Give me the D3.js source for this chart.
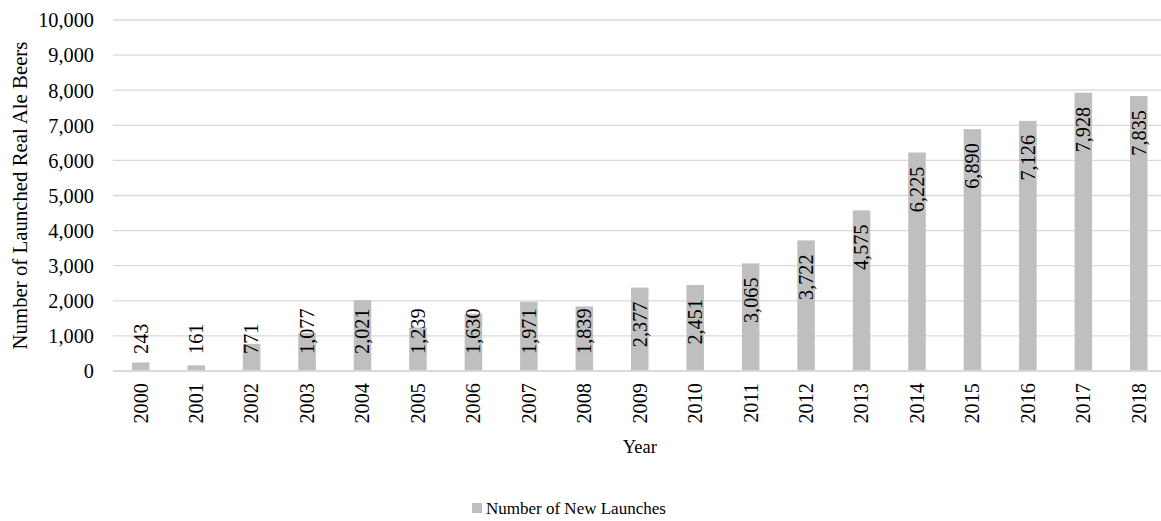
<!DOCTYPE html>
<html>
<head>
<meta charset="utf-8">
<script src="https://cdn.jsdelivr.net/npm/d3@7"></script>
<style>
  html, body { margin: 0; padding: 0; background: #fff; }
  svg text { font-family: "Liberation Serif", "Times New Roman", serif; fill: #000; }
</style>
</head>
<body>
<svg id="chart" width="1161" height="521"></svg>
<script>
// Real ale launches per year
const years = ["2000","2001","2002","2003","2004","2005","2006","2007","2008","2009",
               "2010","2011","2012","2013","2014","2015","2016","2017","2018"];
const launches = [243, 161, 771, 1077, 2021, 1239, 1630, 1971, 1839, 2377,
                  2451, 3065, 3722, 4575, 6225, 6890, 7126, 7928, 7835];
const yTicks = [0, 1000, 2000, 3000, 4000, 5000, 6000, 7000, 8000, 9000, 10000];
const seriesName = "Number of New Launches";
const yTitle = "Number of Launched Real Ale Beers";
const xTitle = "Year";

const W = 1161, H = 521;
const plot = { left: 113, right: 1166.5, top: 20, bottom: 371 };
const fs = 20.3;
const fmt = d3.format(",");

const svg = d3.select("#chart");

const x = d3.scaleBand()
  .domain(years)
  .range([plot.left, plot.right])
  .paddingInner(0.684)
  .paddingOuter(0.342);

const y = d3.scaleLinear()
  .domain([0, 10000])
  .range([plot.bottom, plot.top]);

// Horizontal gridlines
svg.append("g")
  .selectAll("line")
  .data(yTicks.filter(t => t > 0))
  .join("line")
  .attr("x1", plot.left).attr("x2", W)
  .attr("y1", d => y(d)).attr("y2", d => y(d))
  .attr("stroke", "#d9d9d9")
  .attr("stroke-width", 1.3);

// Y tick labels
const yAxis = d3.axisLeft(y).tickValues(yTicks).tickFormat(fmt).tickSize(0).tickPadding(0);
const gy = svg.append("g").attr("transform", `translate(94,0)`).call(yAxis);
gy.select(".domain").remove();
gy.selectAll("text")
  .attr("font-size", fs)
  .attr("font-family", "Liberation Serif")
  .attr("fill", "#000")
  .attr("dy", (0.338 * fs) + "px")
  .attr("x", 0);

// Bars
svg.append("g")
  .selectAll("rect")
  .data(years.map((yr, i) => ({ yr, v: launches[i] })))
  .join("rect")
  .attr("x", d => x(d.yr))
  .attr("width", x.bandwidth())
  .attr("y", d => y(d.v))
  .attr("height", d => y(0) - y(d.v))
  .attr("fill", "#bfbfbf");

// Baseline
svg.append("line")
  .attr("x1", plot.left).attr("x2", W)
  .attr("y1", y(0)).attr("y2", y(0))
  .attr("stroke", "#d9d9d9")
  .attr("stroke-width", 2);

// Value labels, rotated, set just inside the bar top
const labelFloor = 354;
const lg = svg.append("g");
years.forEach((yr, i) => {
  const v = launches[i];
  const cx = x(yr) + x.bandwidth() / 2;
  const t = lg.append("text")
    .attr("font-size", fs)
    .text(fmt(v));
  const len = t.node().getComputedTextLength();
  const endY = y(v) + 14;
  let ty, anchor;
  if (endY + len > labelFloor) { ty = labelFloor; anchor = "start"; }
  else { ty = endY; anchor = "end"; }
  t.attr("text-anchor", anchor)
   .attr("transform", `translate(${cx + 0.338 * fs},${ty}) rotate(-90)`);
});

// X tick labels
const xg = svg.append("g");
years.forEach(yr => {
  const cx = x(yr) + x.bandwidth() / 2;
  xg.append("text")
    .attr("font-size", fs)
    .attr("text-anchor", "end")
    .attr("transform", `translate(${cx + 0.338 * fs},383) rotate(-90)`)
    .text(yr);
});

// Axis titles
svg.append("text")
  .attr("font-size", 18.5)
  .attr("text-anchor", "middle")
  .attr("x", (plot.left + plot.right) / 2)
  .attr("y", 453)
  .text(xTitle);

svg.append("text")
  .attr("font-size", 20.8)
  .attr("text-anchor", "middle")
  .attr("transform", `translate(27,${(plot.top + plot.bottom) / 2}) rotate(-90)`)
  .text(yTitle);

// Legend
const leg = svg.append("g").attr("transform", "translate(472,503)");
leg.append("rect").attr("width", 10).attr("height", 10).attr("fill", "#bfbfbf");
leg.append("text")
  .attr("x", 14)
  .attr("y", 11)
  .attr("font-size", 17)
  .text(seriesName);
</script>
</body>
</html>
